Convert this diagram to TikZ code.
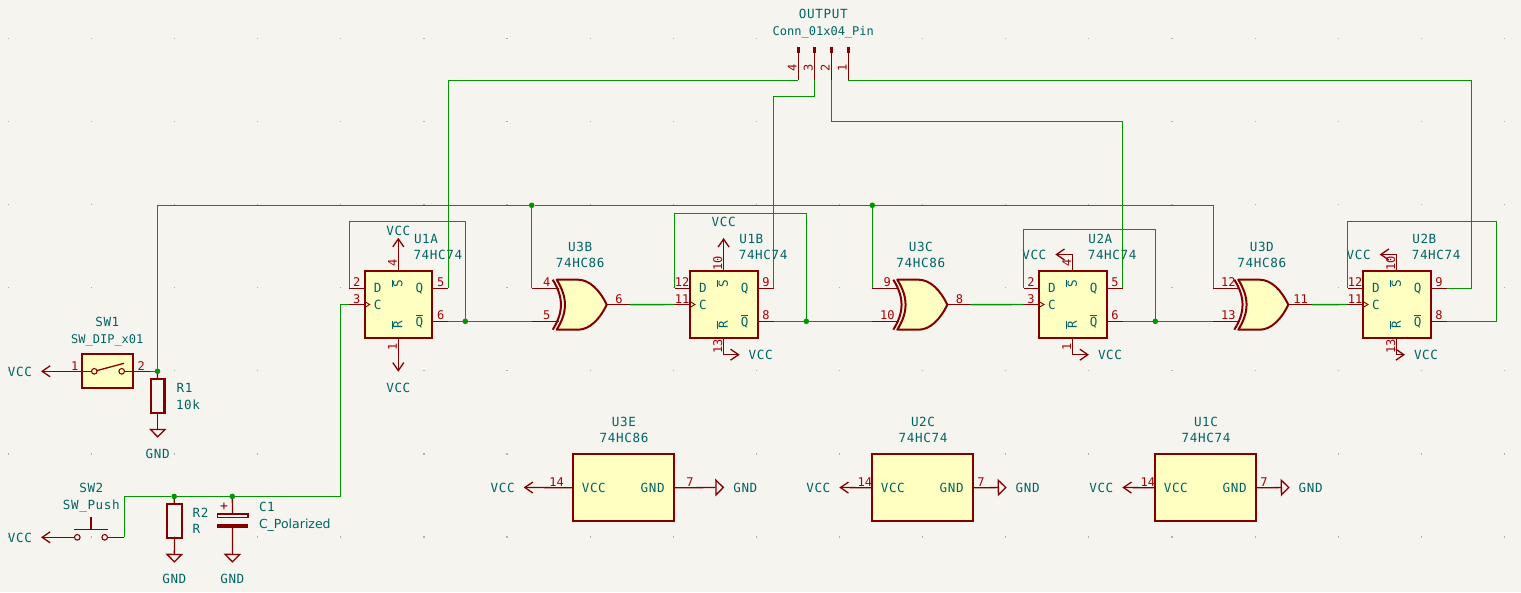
\documentclass[tikz,border=0pt]{standalone}
\usepackage{fontspec}
\newfontfamily\kifont{DejaVu Sans Mono}
\newfontfamily\kiwide[LetterSpace=5]{DejaVu Sans Mono}
\newfontfamily\kiprop{DejaVu Sans}
\usetikzlibrary{arrows.meta,positioning}
\definecolor{sheet}{HTML}{F5F4EF}
\definecolor{griddot}{HTML}{B4B4AE}
\definecolor{symline}{HTML}{840000}
\definecolor{symfill}{HTML}{FFFFC2}
\definecolor{pinred}{HTML}{A90000}
\definecolor{labelteal}{HTML}{006464}
\definecolor{wiregreen}{HTML}{009600}
\tikzset{
	txt/.style={font=\kiwide\fontsize{12.6}{12.6}\selectfont,text=labelteal,inner sep=0pt,outer sep=0pt,text height=9.5pt,text depth=0pt},
	longtxt/.style={txt,font=\kifont\fontsize{12}{12}\selectfont},
	pinnum/.style={txt,font=\kifont\fontsize{12}{12}\selectfont,text=pinred},
	pwr/.style={txt,inner xsep=9pt,inner ysep=2pt},
	pwrbelow/.style={txt,inner xsep=9pt,inner ysep=11.5pt},
	chipbox/.style={draw=symline,fill=symfill,line width=2.2pt,inner sep=0pt,outer sep=0pt},
	gatebody/.style={draw=symline,fill=symfill,line width=2pt,line join=round},
	twoterm/.style={draw=symline,line width=2.2pt,inner sep=0pt,outer sep=0pt},
	pinline/.style={draw=symline,line width=1.3pt},
	vccline/.style={pinline,-{Straight Barb[length=8pt,width=11pt,line width=1.3pt]}},
	gndline/.style={pinline,-{Triangle[open,length=9pt,width=17.5pt,line width=1.3pt]}},
	wire/.style={draw=wiregreen,line width=1.4pt},
	dot/.style={circle,fill=wiregreen,inner sep=0pt,outer sep=0pt,minimum size=5.6pt},
	contact/.style={circle,draw=symline,line width=1.1pt,inner sep=0pt,outer sep=0pt,minimum size=5.6pt},
}
\newcommand\flipflop[9]{
	\begin{scope}[shift={(#2,0)}]
		\node [chipbox,minimum width=67.3pt,minimum height=67pt,anchor=north west] (#1) at (0,271) {};
		\coordinate (#1d) at (-15.6,288.3);
		\coordinate (#1c) at (-16,304.5);
		\coordinate (#1q) at (83.3,288.3);
		\coordinate (#1qb) at (83.3,321.3);
		\coordinate (#1s) at (33.3,254.5);
		\coordinate (#1r) at (33.3,354.7);
		\draw [pinline] (0,288.3) -- (#1d);
		\draw [pinline] (0,304.5) -- (#1c);
		\draw [pinline] (67.3,288.3) -- (#1q);
		\draw [pinline] (67.3,321.3) -- (#1qb);
		\draw [pinline] (33.3,271) -- (#1s);
		\draw [pinline] (33.3,338) -- (#1r);
		\draw [pinline,line width=0.9pt] (0,301.7) -- (4.7,304.5) -- (0,307.3);
		\node [txt] (#1ld) at (12.7,287.7) {D};
		\node [txt] (#1lc) at (12.7,304.3) {C};
		\node [txt] (#1lq) at (54.3,287.7) {Q};
		\node [txt] (#1lqb) at (54.3,321.3) {$\overline{\hbox{Q}}$};
		\node [txt,rotate=90] (#1ls) at (32.7,283.3) {$\overline{\hbox{S}}$};
		\node [txt,rotate=90] (#1lr) at (32.7,325) {$\overline{\hbox{R}}$};
		\node [pinnum] (#1nd) at (-8.3,281.7) {#4};
		\node [pinnum] (#1nc) at (-8.3,298.3) {#5};
		\node [pinnum] (#1nq) at (75.7,281.7) {#6};
		\node [pinnum] (#1nqb) at (75.7,315) {#7};
		\node [pinnum,rotate=90] (#1ns) at (27,263) {#8};
		\node [pinnum,rotate=90] (#1nr) at (27,346.7) {#9};
		\node [txt,anchor=west] (#1ref) at (49,238.5) {#3};
		\node [txt,anchor=west] (#1val) at (48.5,255) {74HC74};
	\end{scope}
}
\newcommand\xorgate[6]{
	\begin{scope}[shift={(#2,0)}]
		\coordinate (#1a) at (0,288.3);
		\coordinate (#1b) at (0,321.3);
		\coordinate (#1y) at (98.3,304.7);
		\draw [pinline] (#1a) -- (27,288.3);
		\draw [pinline] (#1b) -- (27,321.3);
		\draw [pinline] (75,304.7) -- (#1y);
		\path [gatebody] (25,279.7) -- (46.6,279.7) .. controls (58,280) and (68,290) .. (75,304.7) .. controls (68,319.4) and (58,329.4) .. (46.6,329.7) -- (25,329.7) .. controls (36,312) and (36,297.4) .. (25,279.7) -- cycle;
		\draw [symline,line width=2pt] (21,279.7) .. controls (32,297.4) and (32,312) .. (21,329.7);
		\node [pinnum] (#1na) at (15,281.7) {#4};
		\node [pinnum] (#1nb) at (15,315) {#5};
		\node [pinnum] (#1ny) at (87.3,298.3) {#6};
		\node [txt] (#1ref) at (48.5,246.7) {#3};
		\node [txt] (#1val) at (48.5,262.7) {74HC86};
	\end{scope}
}
\newcommand\powerunit[5]{
	\begin{scope}[shift={(#2,0)}]
		\node [chipbox,minimum width=100.4pt,minimum height=67pt,anchor=north west] (#1) at (0,454.3) {};
		\node [pwr] (#1vcc) at (-54-#5,487.3) {VCC};
		\node [pwr] (#1gnd) at (155.4+#5,487.3) {GND};
		\draw [vccline] (#1.west) -- (#1vcc);
		\draw [gndline] (#1.east) -- (#1gnd);
		\node [txt] (#1lv) at (20.5,487.3) {VCC};
		\node [txt] (#1lg) at (79.4,487.3) {GND};
		\node [pinnum] (#1nv) at (-7.5-0.55*#5,481.3) {14};
		\node [pinnum] (#1ng) at (108.7+0.48*#5,481.3) {7};
		\node [txt] (#1ref) at (50.7,421.7) {#3};
		\node [txt] (#1val) at (50.7,438) {#4};
	\end{scope}
}
\begin{document}
\begin{tikzpicture}[x=1pt,y=-1pt,node distance=16.6pt]
	\useasboundingbox (0,0) rectangle (1521,592);
	\fill [sheet] (0,0) rectangle (1521,592);
	\foreach \i in {0,...,18}
		\foreach \j in {0,...,6}
			\fill [griddot] ({7.7+83.12*\i},{37.7+83.12*\j}) rectangle ++(1.2,1.2);

	\flipflop{u1a}{365}{U1A}{2}{3}{5}{6}{4}{1}
	\flipflop{u1b}{690.3}{U1B}{12}{11}{9}{8}{10}{13}
	\flipflop{u2a}{1039.3}{U2A}{2}{3}{5}{6}{4}{1}
	\flipflop{u2b}{1363.3}{U2B}{12}{11}{9}{8}{10}{13}
	\xorgate{u3b}{531.7}{U3B}{4}{5}{6}
	\xorgate{u3c}{872.3}{U3C}{9}{10}{8}
	\xorgate{u3d}{1213.3}{U3D}{12}{13}{11}
	\powerunit{u3e}{573.3}{U3E}{74HC86}{16.6}
	\powerunit{u2c}{872.3}{U2C}{74HC74}{0}
	\powerunit{u1c}{1155.3}{U1C}{74HC74}{0}

	\node [pwr] (vcc1as) at (398.3,231) {VCC};
	\node [pwrbelow] (vcc1ar) at (398.3,388) {VCC};
	\node [pwrbelow] (vcc1bs) at (723.6,221.7) {VCC};
	\node [pwr] (vcc1br) at (760.7,354.7) {VCC};
	\node [pwr] (vcc2as) at (1034.3,254.5) {VCC};
	\node [pwr] (vcc2ar) at (1110,354.7) {VCC};
	\node [pwr] (vcc2bs) at (1358.7,254.5) {VCC};
	\node [pwr] (vcc2br) at (1426,354.7) {VCC};
	\draw [vccline] (u1as) -- (vcc1as);
	\draw [vccline] (u1ar) -- (vcc1ar);
	\draw [vccline] (u1bs) -- (vcc1bs);
	\draw [vccline] (u1br) -- (vcc1br);
	\draw [vccline] (u2as) -- (vcc2as);
	\draw [vccline] (u2ar) -- (vcc2ar);
	\draw [vccline] (u2bs) -- (vcc2bs);
	\draw [vccline] (u2br) -- (vcc2br);

	\node [txt] (sw1ref) at (107.3,321.7) {SW1};
	\node [longtxt] (sw1val) [below of=sw1ref] {SW\_DIP\_x01};
	\node [chipbox,minimum width=51pt,minimum height=33.7pt] (sw1) at (107.5,371) {};
	\node [contact] (sw1a) at (94.3,371.3) {};
	\node [contact] (sw1b) at (121.7,371.3) {};
	\coordinate (sw1lever) at (124,363.3);
	\coordinate (sw1pin) at (150,371.3);
	\node [dot] (n1) at (157.5,371.3) {};
	\node [pwr] (vccsw1) at (20,371.3) {VCC};
	\node [pinnum] (sw1n1) at (74.7,365.7) {1};
	\node [pinnum] (sw1n2) at (141.3,365.7) {2};
	\draw [vccline] (sw1a) -- (vccsw1);
	\draw [pinline] (sw1a.15) -- (sw1lever);
	\draw [pinline] (sw1b) -- (sw1pin);
	\draw [wire] (sw1pin) -- (n1);

	\node [twoterm,minimum width=13.7pt,minimum height=33.4pt] (r1) at (157.7,396) {};
	\node [txt,anchor=west] (r1ref) at (176.7,387.7) {R1};
	\node [txt,anchor=west] (r1val) at (176,405) {10k};
	\node [pwrbelow] (gnd1) at (157.7,454) {GND};
	\draw [pinline] (n1) -- (r1);
	\draw [gndline] (r1) -- (gnd1);

	\node [txt] (sw2ref) at (91.3,487.7) {SW2};
	\node [txt] (sw2val) [below of=sw2ref] {SW\_Push};
	\node [contact] (sw2a) at (77.3,537.3) {};
	\node [contact] (sw2b) at (104.7,537.3) {};
	\coordinate (sw2top) at (91,517.3);
	\coordinate (sw2bar) at (91,529.3);
	\coordinate (sw2barl) at (74,529.3);
	\coordinate (sw2barr) at (107.7,529.3);
	\coordinate (sw2pin) at (124.4,537.3);
	\node [pwr] (vccsw2) at (20,537.3) {VCC};
	\draw [vccline] (sw2a) -- (vccsw2);
	\draw [pinline] (sw2barl) -- (sw2barr);
	\draw [pinline] (sw2top) -- (sw2bar);
	\draw [pinline] (sw2b) -- (sw2pin);

	\node [dot] (n5) at (174.2,496.4) {};
	\node [dot] (n6) at (232.3,496.4) {};
	\node [twoterm,minimum width=14.4pt,minimum height=33.7pt] (r2) at (174.5,520.8) {};
	\node [txt,anchor=west] (r2ref) at (192.7,512.3) {R2};
	\node [txt,anchor=west] (r2val) at (192.7,529) {R};
	\node [pwrbelow] (gnd2) at (174.3,579) {GND};
	\draw [pinline] (n5) -- (r2);
	\draw [gndline] (r2) -- (gnd2);

	\node [draw=symline,line width=1.2pt,inner sep=0pt,outer sep=0pt,minimum width=30.7pt,minimum height=3.7pt] (c1p) at (232.6,515.8) {};
	\node [fill=symline,inner sep=0pt,outer sep=0pt,minimum width=31pt,minimum height=4pt] (c1n) at (232.6,526) {};
	\node [pinnum,text=symline,font=\kifont\fontsize{13}{13}\selectfont] (c1plus) at (224,506) {+};
	\node [txt,anchor=west] (c1ref) at (259,506.7) {C1};
	\node [txt,anchor=west,font=\kiprop\fontsize{12.5}{12.5}\selectfont] (c1val) at (259,523.3) {C\_Polarized};
	\node [pwrbelow] (gnd3) at (232.3,579) {GND};
	\draw [pinline] (n6) -- (c1p);
	\draw [gndline] (c1n) -- (gnd3);

	\node [txt] (outref) at (823.3,13.7) {OUTPUT};
	\node [longtxt] (outval) [below of=outref] {Conn\_01x04\_Pin};
	\foreach \n/\px in {4/798.3,3/814.3,2/831.3,1/848.3} {
		\coordinate (pin\n) at (\px,80.3);
		\coordinate (stub\n) at (\px,53);
		\draw [pinline,line width=2.4pt] (\px,47) -- (stub\n);
		\draw [pinline] (stub\n) -- (pin\n);
		\node [pinnum,rotate=90] (pinn\n) at (\px-6.5,68.3) {\n};
	}

	\node [dot] (n2) at (531.7,205.3) {};
	\node [dot] (n3) at (872.3,205.3) {};
	\coordinate (topend) at (1213.3,205.3);
	\draw [wire] (n1) |- (n2) -- (n3) -- (topend) -- (u3da);
	\draw [wire] (n2) -- (u3ba);
	\draw [wire] (n3) -- (u3ca);

	\node [dot] (n4) at (465.3,321.3) {};
	\node [dot] (n7) at (806.3,321.3) {};
	\node [dot] (n8) at (1155.3,321.3) {};
	\draw [wire] (u1aqb) -- (n4) -- (u3bb);
	\draw [wire] (u1bqb) -- (n7) -- (u3cb);
	\draw [wire] (u2aqb) -- (n8) -- (u3db);
	\draw [wire] (u3by) -- (u1bc);
	\draw [wire] (u3cy) -- (u2ac);
	\draw [wire] (u3dy) -- (u2bc);

	\coordinate (loop1a) at (349.4,221.7);
	\coordinate (loop1b) at (674.7,213.3);
	\coordinate (loop2a) at (1023.7,229.3);
	\coordinate (loop2b) at (1496.3,221.3);
	\draw [wire] (u1ad) -- (loop1a) -| (n4);
	\draw [wire] (u1bd) -- (loop1b) -| (n7);
	\draw [wire] (u2ad) -- (loop2a) -| (n8);
	\draw [wire] (u2bqb) -| (loop2b) -| (u2bd);

	\coordinate (bend3) at (814.3,96.3);
	\coordinate (bend2) at (831.3,121.3);
	\coordinate (bend1) at (1471.3,80.3);
	\draw [wire] (u1aq) |- (pin4);
	\draw [wire] (u1bq) |- (bend3) -- (pin3);
	\draw [wire] (u2aq) |- (bend2) -- (pin2);
	\draw [wire] (u2bq) -| (bend1) -- (pin1);

	\coordinate (clkbend) at (340.7,496.4);
	\draw [wire] (sw2pin) |- (n5) -- (n6) -- (clkbend) |- (u1ac);
\end{tikzpicture}
\end{document}
